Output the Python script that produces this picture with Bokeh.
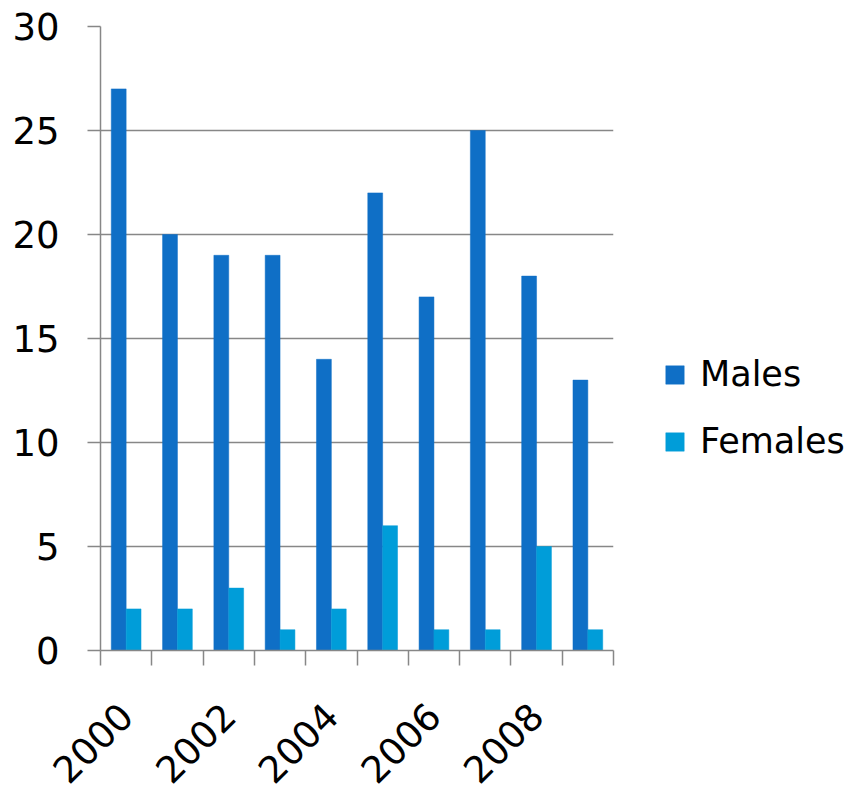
from bokeh.plotting import figure
from bokeh.models import Range1d, FixedTicker, ColumnDataSource, Legend, LegendItem
from bokeh.transform import dodge
from bokeh.embed import file_html
from bokeh.resources import INLINE
import math

years = [2000, 2001, 2002, 2003, 2004, 2005, 2006, 2007, 2008, 2009]
males = [27, 20, 19, 19, 14, 22, 17, 25, 18, 13]
females = [2, 2, 3, 1, 2, 6, 1, 1, 5, 1]
label_years = [2000, 2002, 2004, 2006, 2008]
y_ticks = [0, 5, 10, 15, 20, 25, 30]

FONT = "DejaVu Sans"
GREY = "#878787"

src = ColumnDataSource(dict(year=years, males=males, females=females))

p = figure(frame_width=513, frame_height=624, output_backend="svg", toolbar_location=None,
           x_range=Range1d(years[0] - 0.5, years[-1] + 0.5), y_range=Range1d(0, 30),
           min_border_left=100, min_border_top=26, min_border_right=230, min_border_bottom=129,
           background_fill_color="white", border_fill_color="white")
p.outline_line_color = None

bw = 0.29
rm = p.vbar(x=dodge("year", -bw / 2, range=p.x_range), top="males", width=bw, source=src,
            fill_color="#0F6FC6", line_color="#0F6FC6", line_width=0.5)
rf = p.vbar(x=dodge("year", bw / 2, range=p.x_range), top="females", width=bw, source=src,
            fill_color="#009DD9", line_color="#009DD9", line_width=0.5)

# x axis
xa = p.xaxis[0]
xa.ticker = FixedTicker(ticks=label_years, minor_ticks=[y - 0.5 for y in years] + [years[-1] + 0.5])
xa.major_tick_out = 0
xa.major_tick_in = 0
xa.minor_tick_out = 15
xa.minor_tick_in = 0
xa.minor_tick_line_color = GREY
xa.minor_tick_line_width = 1.5
xa.axis_line_color = GREY
xa.axis_line_width = 1.5
xa.major_label_orientation = math.pi / 4
xa.major_label_text_font = FONT
xa.major_label_text_font_size = "37px"
xa.major_label_text_color = "black"
xa.major_label_standoff = 44

# y axis
ya = p.yaxis[0]
ya.ticker = FixedTicker(ticks=y_ticks)
ya.minor_tick_line_color = None
ya.major_tick_out = 13
ya.major_tick_in = 0
ya.major_tick_line_color = GREY
ya.major_tick_line_width = 1.5
ya.axis_line_color = GREY
ya.axis_line_width = 1.5
ya.major_label_text_font = FONT
ya.major_label_text_font_size = "37px"
ya.major_label_text_color = "black"
ya.major_label_standoff = 28

p.xgrid.grid_line_color = None
p.ygrid.grid_line_color = GREY
p.ygrid.grid_line_width = 1.5

lg = Legend(items=[LegendItem(label="Males", renderers=[rm]),
                   LegendItem(label="Females", renderers=[rf])],
            location=(50, 189))
lg.border_line_color = None
lg.background_fill_color = None
lg.background_fill_alpha = 0
lg.padding = 0
lg.margin = 0
lg.glyph_width = 23
lg.glyph_height = 23
lg.label_text_font = FONT
lg.label_text_font_size = "35px"
lg.label_text_color = "black"
lg.label_standoff = 14
lg.spacing = 27
p.add_layout(lg, "right")

open("out.html", "w").write(file_html(p, INLINE))
